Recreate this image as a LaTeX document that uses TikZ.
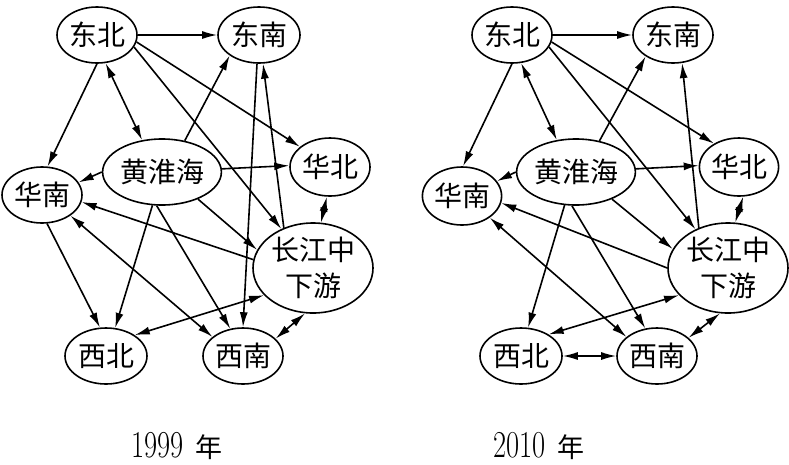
\documentclass[tikz,border=0pt]{standalone}
\usepackage{fontspec}
\usepackage{graphicx}
\newfontfamily\cjk{Noto Sans CJK SC}
\usetikzlibrary{shapes.geometric,arrows.meta}
\tikzset{
  reg/.style={ellipse, draw, line width=1.6pt, inner sep=0pt, minimum width=80pt, minimum height=56pt,
    font=\cjk\fontsize{28}{36}\selectfont, align=center},
  ar/.style={line width=1.6pt, -{Latex[length=15pt,width=8pt]}},
  dar/.style={line width=1.6pt, {Latex[length=15pt,width=8pt]}-{Latex[length=15pt,width=8pt]}},
  yearlbl/.style={inner sep=0pt}
}
\begin{document}
\begin{tikzpicture}[x=1pt,y=-1pt]
\useasboundingbox (0,0) rectangle (789,464);
% ---------- 1999 ----------
\node[reg] (DB) at (97,35) {东北};
\node[reg, minimum width=82pt] (DN) at (259,35) {东南};
\node[reg, minimum width=106pt, minimum height=66pt] (HHH) at (162,172) {黄淮海};
\node[reg, minimum height=58pt] (HB) at (330,167) {华北};
\node[reg] (HN) at (42,195) {华南};
\node[reg, minimum width=120pt, minimum height=90pt] (CJ) at (313,268) {长江中\\下游};
\node[reg, minimum width=82pt] (XB) at (106,356) {西北};
\node[reg] (XN) at (243,356) {西南};

\draw[ar] (DB.0) -- (DN.180);
\draw[dar] (DB.-73) -- (HHH.122);
\draw[ar] (DB.-90) -- (HN.79);
\draw[ar] (DB.-10) -- (HB.146);
\draw[ar] (DB.-18) -- (CJ.129);
\draw[ar] (HHH.54) -- (DN.-145);
\draw[ar] (HHH.3) -- (HB.178);
\draw[ar] (HHH.180) -- (HN.19);
\draw[ar] (DN.-94) -- (XN.90);
\draw[ar] (CJ.126) -- (DN.-82);
\draw[dar] (HB.-96) -- (CJ.80);
\draw[ar] (CJ.172) -- (HN.-10);
\draw[dar] (HN.-36) -- (XN.148);
\draw[ar] (HHH.-37) -- (CJ.162);
\draw[ar] (HHH.-106) -- (XB.72);
\draw[ar] (HHH.-99) -- (XN.115);
\draw[ar] (HN.-80) -- (XB.102);
\draw[dar] (CJ.-151) -- (XB.36);
\draw[dar] (CJ.-100) -- (XN.28);

% ---------- 2010 ----------
\node[reg] (DB2) at (512,35) {东北};
\node[reg] (DN2) at (673,35) {东南};
\node[reg, minimum width=106pt, minimum height=66pt] (HHH2) at (576,172) {黄淮海};
\node[reg, minimum width=72pt, minimum height=58pt] (HB2) at (739,167) {华北};
\node[reg, minimum width=72pt, minimum height=58pt] (HN2) at (462,196) {华南};
\node[reg, minimum width=120pt, minimum height=90pt] (CJ2) at (728,268) {长江中\\下游};
\node[reg, minimum width=82pt] (XB2) at (521,356) {西北};
\node[reg] (XN2) at (657,356) {西南};

\draw[ar] (DB2.0) -- (DN2.180);
\draw[dar] (DB2.-72) -- (HHH2.121);
\draw[ar] (DB2.-90) -- (HN2.88);
\draw[ar] (DB2.-10) -- (HB2.137);
\draw[ar] (DB2.-18) -- (CJ2.130);
\draw[ar] (HHH2.53) -- (DN2.-142);
\draw[ar] (HHH2.3) -- (HB2.178);
\draw[ar] (HHH2.180) -- (HN2.23);
\draw[ar] (CJ2.126) -- (DN2.-72);
\draw[dar] (HB2.-82) -- (CJ2.81);
\draw[ar] (CJ2.180) -- (HN2.-10);
\draw[dar] (HN2.-38) -- (XN2.148);
\draw[ar] (HHH2.-37) -- (CJ2.161);
\draw[ar] (HHH2.-109) -- (XB2.76);
\draw[ar] (HHH2.-97) -- (XN2.113);
\draw[dar] (CJ2.-151) -- (XB2.38);
\draw[dar] (CJ2.-100) -- (XN2.30);
\draw[dar] (XB2.0) -- (XN2.180);

% ---------- year labels ----------
\node[yearlbl] (Y1) at (177,446) {\scalebox{0.75}[1]{\fontsize{38}{38}\selectfont 1999}\hspace{12pt}{\cjk\fontsize{27}{27}\selectfont 年}};
\node[yearlbl] (Y2) at (539,446) {\scalebox{0.75}[1]{\fontsize{38}{38}\selectfont 2010}\hspace{12pt}{\cjk\fontsize{27}{27}\selectfont 年}};
\end{tikzpicture}
\end{document}
